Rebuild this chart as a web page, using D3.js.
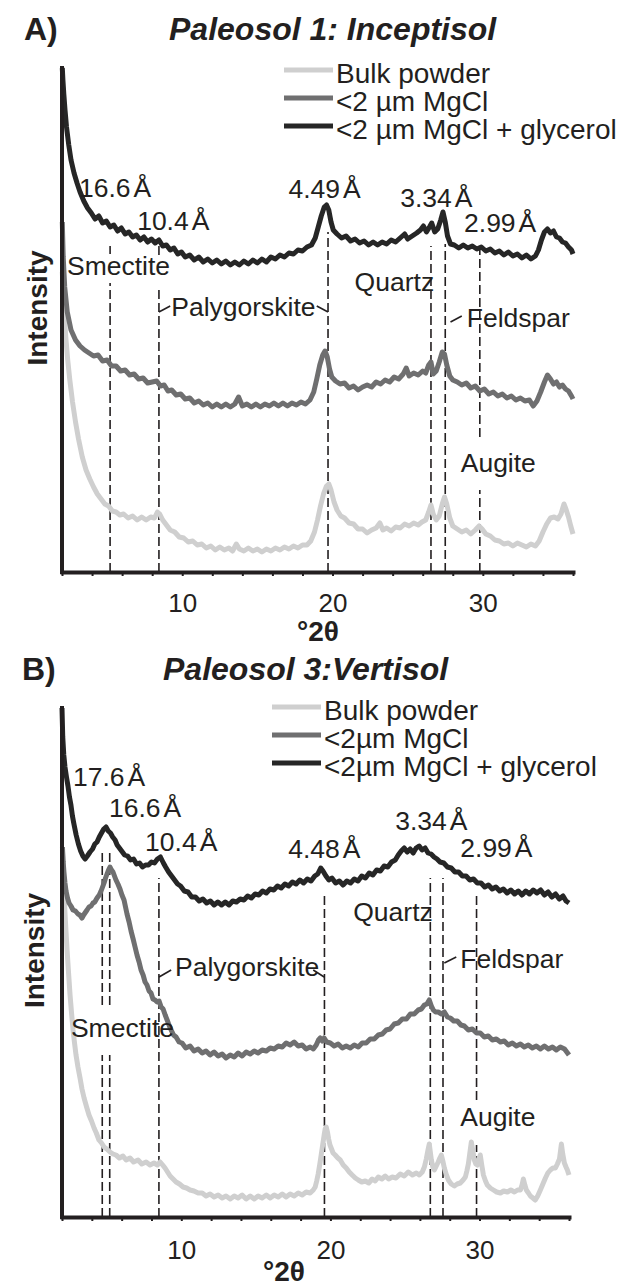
<!DOCTYPE html>
<html>
<head>
<meta charset="utf-8">
<script src="https://cdn.jsdelivr.net/npm/d3@7"></script>
<style>
  body { margin: 0; background: #fff; }
  svg text { font-family: "Liberation Sans", Arial, Helvetica, sans-serif; fill: #231f20; }
</style>
</head>
<body>
<svg id="chart" width="622" height="1286"></svg>
<script>
// x axis (degrees 2-theta)
const thetaDomain = [2, 36];
const thetaTicks = [2, 4, 6, 8, 10, 12, 14, 16, 18, 20, 22, 24, 26, 28, 30, 32, 34, 36];
const tickLabels = [10, 20, 30];

const seriesNames = ['bulk', 'mgcl', 'glyc'];
const legendA = ['Bulk powder', '<2 µm MgCl', '<2 µm MgCl + glycerol'];
const legendB = ['Bulk powder', '<2µm MgCl', '<2µm MgCl + glycerol'];

// Panel A: Paleosol 1 (intensity, arbitrary units)
const bulkA = [[2.02,300],[2.08,280],[2.15,258],[2.25,235],[2.38,212],[2.52,192],[2.7,170],[2.9,150],[3.1,133],[3.35,115],[3.6,102],[3.85,93],[4.1,85],[4.35,78],[4.6,73],[4.85,68],[5.1,66],[5.35,61],[5.6,60],[5.85,57],[6.1,58],[6.4,54],[6.7,56],[7.0,52],[7.3,55],[7.6,52],[7.9,55],[8.15,54],[8.35,60],[8.5,58],[8.7,52],[8.95,47],[9.2,42],[9.5,40],[9.8,35],[10.1,34],[10.4,30],[10.7,31],[11.0,27],[11.3,28],[11.6,24],[11.9,26],[12.2,22],[12.5,25],[12.8,22],[13.1,24],[13.35,21],[13.6,28],[13.8,23],[14.1,21],[14.4,24],[14.7,21],[15.0,23],[15.3,20],[15.6,23],[15.9,21],[16.2,24],[16.5,22],[16.8,25],[17.1,23],[17.4,26],[17.7,24],[18.0,27],[18.3,27],[18.55,31],[18.8,40],[19.0,52],[19.2,66],[19.4,78],[19.6,86],[19.75,88],[19.9,82],[20.1,70],[20.3,62],[20.55,56],[20.8,54],[21.1,49],[21.4,48],[21.7,43],[22.0,43],[22.3,39],[22.6,42],[22.9,44],[23.15,49],[23.35,42],[23.6,44],[23.9,41],[24.2,45],[24.5,44],[24.8,48],[25.1,46],[25.4,49],[25.7,47],[25.95,50],[26.2,52],[26.4,60],[26.55,67],[26.7,58],[26.9,52],[27.1,56],[27.3,68],[27.45,75],[27.6,68],[27.8,54],[28.0,46],[28.3,43],[28.6,40],[28.9,42],[29.2,38],[29.5,42],[29.75,46],[29.95,43],[30.2,38],[30.5,36],[30.8,32],[31.1,31],[31.4,28],[31.7,29],[32.0,26],[32.3,29],[32.6,27],[32.9,25],[33.2,28],[33.5,26],[33.75,31],[34.0,40],[34.25,48],[34.5,54],[34.75,55],[35.0,53],[35.2,58],[35.4,68],[35.55,62],[35.7,55],[35.85,46],[36.0,38]];
const mgclA = [[2.02,350],[2.08,315],[2.18,285],[2.35,260],[2.6,242],[2.9,232],[3.2,226],[3.5,222],[3.8,219],[4.1,216],[4.4,217],[4.7,211],[5.0,212],[5.3,206],[5.6,206],[5.9,201],[6.2,202],[6.5,197],[6.8,198],[7.1,193],[7.4,194],[7.7,189],[8.0,190],[8.3,191],[8.55,186],[8.8,187],[9.05,181],[9.3,182],[9.6,177],[9.9,178],[10.2,173],[10.5,174],[10.8,169],[11.1,171],[11.4,167],[11.7,169],[12.0,165],[12.3,168],[12.6,165],[12.9,168],[13.2,165],[13.5,168],[13.75,175],[14.0,166],[14.3,168],[14.6,165],[14.9,168],[15.2,165],[15.5,168],[15.8,166],[16.1,169],[16.4,166],[16.7,169],[17.0,166],[17.3,169],[17.6,167],[17.9,170],[18.2,168],[18.5,172],[18.75,180],[18.95,193],[19.15,207],[19.35,217],[19.5,221],[19.65,215],[19.8,203],[19.95,195],[20.2,191],[20.5,188],[20.8,189],[21.1,184],[21.4,186],[21.7,182],[22.0,185],[22.3,187],[22.6,185],[22.9,190],[23.2,188],[23.5,192],[23.8,190],[24.1,195],[24.4,193],[24.7,198],[24.9,204],[25.1,196],[25.4,199],[25.7,197],[26.0,201],[26.2,199],[26.4,207],[26.55,210],[26.7,198],[26.9,201],[27.1,210],[27.3,220],[27.45,218],[27.6,207],[27.8,196],[28.0,192],[28.3,190],[28.6,187],[28.9,189],[29.2,184],[29.5,186],[29.8,181],[30.1,183],[30.4,178],[30.7,180],[31.0,176],[31.3,178],[31.6,174],[31.9,176],[32.2,172],[32.5,174],[32.8,171],[33.1,172],[33.35,166],[33.6,171],[33.85,180],[34.1,190],[34.3,197],[34.5,193],[34.7,188],[34.9,190],[35.1,185],[35.3,187],[35.5,183],[35.7,181],[35.9,176],[36.0,173]];
const glycA = [[2.02,504],[2.06,492],[2.12,478],[2.2,462],[2.3,445],[2.45,427],[2.6,412],[2.8,399],[3.0,389],[3.2,380],[3.45,371],[3.7,364],[3.95,359],[4.2,353],[4.45,356],[4.7,349],[4.95,351],[5.2,345],[5.45,347],[5.7,341],[5.95,344],[6.2,338],[6.45,340],[6.7,335],[6.95,337],[7.2,332],[7.45,335],[7.7,330],[7.95,333],[8.2,329],[8.45,332],[8.7,326],[8.95,327],[9.2,322],[9.45,324],[9.7,318],[9.95,320],[10.2,315],[10.5,317],[10.8,312],[11.1,315],[11.4,310],[11.7,313],[12.0,309],[12.3,312],[12.6,308],[12.9,311],[13.2,307],[13.5,310],[13.8,307],[14.1,311],[14.4,308],[14.7,312],[15.0,309],[15.3,313],[15.6,310],[15.9,315],[16.2,313],[16.5,317],[16.8,315],[17.1,319],[17.4,318],[17.7,322],[18.0,321],[18.3,325],[18.6,327],[18.85,334],[19.05,345],[19.25,356],[19.45,365],[19.6,367],[19.75,362],[19.9,350],[20.05,342],[20.3,338],[20.6,334],[20.9,336],[21.2,331],[21.5,333],[21.8,329],[22.1,331],[22.4,327],[22.7,330],[23.0,327],[23.3,330],[23.6,328],[23.9,332],[24.2,330],[24.5,334],[24.8,338],[25.0,333],[25.3,336],[25.6,339],[25.85,342],[26.05,346],[26.25,340],[26.45,345],[26.6,349],[26.8,340],[27.0,343],[27.2,352],[27.35,360],[27.5,350],[27.65,336],[27.85,328],[28.1,327],[28.4,324],[28.7,327],[29.0,324],[29.3,326],[29.6,323],[29.9,325],[30.2,321],[30.5,323],[30.8,319],[31.1,321],[31.4,317],[31.7,320],[32.0,316],[32.3,318],[32.6,314],[32.9,317],[33.2,313],[33.5,316],[33.7,322],[33.9,332],[34.1,340],[34.3,343],[34.5,339],[34.7,341],[34.9,335],[35.1,334],[35.3,330],[35.5,329],[35.7,325],[35.9,322],[36.0,318]];

// Panel B: Paleosol 3
const bulkB = [[2.03,367],[2.07,350],[2.1,337],[2.15,320],[2.2,304],[2.27,285],[2.34,267],[2.44,244],[2.54,222],[2.64,204],[2.74,187],[2.84,174],[2.94,162],[3.07,150],[3.21,139],[3.34,128],[3.48,119],[3.65,110],[3.81,102],[3.98,96],[4.15,89],[4.3,84],[4.48,77],[4.65,74],[4.82,70],[5.0,68],[5.22,65],[5.42,63],[5.62,62],[5.85,59],[6.09,61],[6.3,57],[6.56,59],[6.8,55],[7.1,57],[7.35,53],[7.64,55],[7.9,52],[8.17,54],[8.4,52],[8.58,55],[8.75,52],[8.91,49],[9.08,45],[9.25,41],[9.45,38],[9.65,35],[9.88,33],[10.12,30],[10.35,29],[10.59,27],[10.85,26],[11.13,24],[11.4,24],[11.66,21],[11.93,23],[12.2,20],[12.47,22],[12.74,19],[13.0,21],[13.28,18],[13.55,21],[13.81,19],[14.08,22],[14.35,18],[14.62,21],[14.89,18],[15.15,21],[15.42,19],[15.7,22],[15.96,19],[16.23,22],[16.5,20],[16.77,23],[17.03,20],[17.3,23],[17.57,21],[17.84,24],[18.11,22],[18.37,25],[18.64,24],[18.85,27],[18.98,30],[19.08,36],[19.18,43],[19.28,52],[19.38,62],[19.48,72],[19.58,82],[19.65,88],[19.72,90],[19.8,85],[19.88,78],[19.97,72],[20.05,69],[20.18,64],[20.32,62],[20.5,59],[20.66,57],[20.86,52],[21.06,49],[21.26,45],[21.46,42],[21.67,39],[21.87,37],[22.1,35],[22.34,36],[22.57,34],[22.8,38],[23.0,36],[23.21,40],[23.45,38],[23.68,41],[23.9,38],[24.15,40],[24.4,39],[24.68,43],[24.95,41],[25.22,45],[25.5,42],[25.76,44],[25.96,42],[26.16,45],[26.3,50],[26.43,58],[26.53,66],[26.63,73],[26.7,65],[26.77,57],[26.87,50],[26.97,47],[27.1,51],[27.23,55],[27.34,59],[27.44,62],[27.54,56],[27.64,49],[27.78,42],[27.91,37],[28.1,33],[28.31,31],[28.5,33],[28.71,34],[28.9,37],[29.05,40],[29.15,46],[29.25,53],[29.35,64],[29.45,75],[29.55,66],[29.65,57],[29.75,53],[29.85,52],[29.95,57],[30.05,62],[30.15,52],[30.26,42],[30.4,36],[30.52,32],[30.72,29],[30.93,27],[31.15,25],[31.4,24],[31.62,26],[31.87,25],[32.1,27],[32.34,25],[32.55,27],[32.74,27],[32.85,32],[32.94,38],[33.04,32],[33.14,27],[33.28,24],[33.41,21],[33.58,19],[33.74,17],[33.9,21],[34.08,27],[34.25,33],[34.42,39],[34.58,44],[34.75,47],[34.92,49],[35.09,49],[35.22,53],[35.36,58],[35.43,66],[35.49,73],[35.58,63],[35.69,54],[35.8,50],[35.89,47],[36.0,42]];
const mgclB = [[2.03,370],[2.08,355],[2.13,345],[2.2,334],[2.27,326],[2.37,319],[2.47,314],[2.6,311],[2.74,307],[2.9,306],[3.07,303],[3.2,302],[3.34,299],[3.45,302],[3.54,304],[3.68,307],[3.81,310],[3.95,311],[4.08,314],[4.2,315],[4.35,319],[4.5,322],[4.62,326],[4.72,330],[4.82,334],[4.92,339],[5.02,343],[5.12,347],[5.22,350],[5.32,347],[5.42,345],[5.52,341],[5.62,337],[5.75,333],[5.89,328],[6.02,322],[6.16,317],[6.26,310],[6.36,303],[6.5,295],[6.63,286],[6.77,278],[6.9,270],[7.03,262],[7.17,255],[7.3,247],[7.44,242],[7.57,235],[7.7,232],[7.84,226],[7.97,224],[8.1,218],[8.24,217],[8.38,215],[8.51,216],[8.65,210],[8.78,208],[8.92,202],[9.05,197],[9.2,191],[9.32,187],[9.48,182],[9.65,180],[9.85,175],[10.05,174],[10.3,169],[10.59,171],[10.85,166],[11.13,168],[11.4,164],[11.66,166],[11.93,162],[12.2,165],[12.47,161],[12.74,163],[13.0,159],[13.28,162],[13.55,160],[13.81,164],[14.08,161],[14.35,165],[14.62,163],[14.89,166],[15.15,164],[15.42,167],[15.7,166],[15.96,169],[16.23,168],[16.5,171],[16.77,170],[17.03,174],[17.3,172],[17.57,175],[17.84,171],[18.11,172],[18.37,168],[18.64,170],[18.85,168],[19.05,172],[19.2,177],[19.32,179],[19.45,176],[19.58,179],[19.75,175],[19.99,174],[20.25,171],[20.52,173],[20.8,169],[21.06,171],[21.33,169],[21.6,172],[21.87,170],[22.13,174],[22.4,174],[22.67,178],[22.94,178],[23.21,182],[23.48,183],[23.74,187],[24.0,188],[24.28,193],[24.55,194],[24.82,198],[25.1,198],[25.36,203],[25.62,203],[25.89,207],[26.1,208],[26.3,212],[26.47,213],[26.63,217],[26.77,211],[26.9,207],[27.05,205],[27.23,205],[27.45,203],[27.64,205],[27.85,200],[28.04,199],[28.27,196],[28.51,196],[28.75,192],[28.98,191],[29.25,187],[29.52,188],[29.8,184],[30.05,184],[30.32,180],[30.59,181],[30.86,177],[31.13,178],[31.4,175],[31.66,176],[31.93,172],[32.2,174],[32.47,171],[32.74,173],[33.0,170],[33.27,172],[33.54,169],[33.81,171],[34.08,168],[34.35,171],[34.62,168],[34.89,170],[35.15,167],[35.42,170],[35.7,168],[35.85,165],[36.0,162]];
const glycB = [[2.0,509],[2.05,480],[2.12,462],[2.2,450],[2.3,440],[2.4,431],[2.5,420],[2.6,412],[2.7,401],[2.8,393],[2.95,382],[3.1,373],[3.25,366],[3.4,361],[3.55,358],[3.7,361],[3.88,365],[4.05,368],[4.2,373],[4.35,375],[4.5,380],[4.65,384],[4.8,388],[4.95,390],[5.1,386],[5.25,384],[5.4,380],[5.56,377],[5.7,372],[5.85,369],[6.0,366],[6.2,362],[6.4,361],[6.6,357],[6.8,358],[7.0,353],[7.2,354],[7.4,350],[7.6,352],[7.8,352],[8.0,355],[8.2,354],[8.4,358],[8.6,360],[8.8,354],[8.95,350],[9.15,345],[9.35,341],[9.55,337],[9.75,333],[9.95,331],[10.2,326],[10.45,325],[10.7,320],[10.95,320],[11.2,316],[11.45,318],[11.7,314],[11.95,316],[12.2,312],[12.45,315],[12.7,312],[12.95,315],[13.2,312],[13.45,316],[13.7,315],[13.95,318],[14.2,317],[14.45,321],[14.7,319],[14.95,323],[15.2,322],[15.45,326],[15.7,324],[15.95,328],[16.2,327],[16.45,331],[16.7,329],[16.95,333],[17.2,331],[17.45,335],[17.7,333],[17.95,337],[18.2,334],[18.45,338],[18.7,336],[18.95,341],[19.15,343],[19.35,349],[19.5,346],[19.7,341],[19.9,337],[20.1,339],[20.35,334],[20.6,336],[20.85,332],[21.1,336],[21.35,334],[21.6,338],[21.85,336],[22.1,341],[22.35,339],[22.6,344],[22.85,342],[23.1,347],[23.35,346],[23.6,351],[23.85,350],[24.1,355],[24.35,357],[24.55,362],[24.75,366],[24.95,369],[25.15,365],[25.35,368],[25.55,364],[25.75,369],[25.95,371],[26.15,367],[26.35,369],[26.55,364],[26.75,363],[26.95,360],[27.15,358],[27.35,355],[27.6,354],[27.85,350],[28.1,349],[28.35,345],[28.6,345],[28.85,341],[29.1,341],[29.35,337],[29.6,338],[29.85,334],[30.1,334],[30.35,330],[30.6,332],[30.85,328],[31.1,330],[31.35,326],[31.6,328],[31.85,324],[32.1,327],[32.35,323],[32.6,326],[32.85,322],[33.1,326],[33.35,323],[33.6,327],[33.85,324],[34.1,327],[34.35,322],[34.6,325],[34.85,320],[35.1,323],[35.35,318],[35.6,321],[35.8,316],[36.0,314]];

// reflection positions (deg 2-theta) and the intensity spans of their dashed marks
const peaksA = [5.2, 8.45, 19.7, 26.55, 27.5, 29.8];
const peakSpansA = [[[318, 326], [0, 289]], [[317, 327], [0, 282]], [[0, 340]], [[0, 326]], [[0, 328]], [[135, 322], [0, 82]]];
const peaksB = [4.7, 5.2, 8.5, 19.6, 26.7, 27.55, 29.8];
const peakSpansB = [[[212, 367], [0, 162]], [[212, 367], [0, 162]], [[0, 339]], [[0, 322]], [[0, 339]], [[0, 339]], [[117, 322], [0, 72]]];

// d-spacing labels [text, deg, intensity]
const dLabelsA = [['16.6', 3.13, 375], ['10.4', 7.0, 342], ['4.49', 17.07, 374], ['3.34', 24.5, 365], ['2.99', 28.75, 340]];
const dLabelsB = [['17.6', 2.74, 431], ['16.6', 5.15, 400], ['10.4', 7.57, 366], ['4.48', 17.17, 359], ['3.34', 24.35, 387], ['2.99', 28.71, 360]];
// mineral labels [text, deg, intensity]
const mineralsA = [['Smectite', 2.33, 297], ['Palygorskite', 9.27, 256], ['Quartz', 21.47, 281], ['Feldspar', 28.93, 245], ['Augite', 28.53, 100]];
const mineralsB = [['Smectite', 2.6, 180], ['Palygorskite', 9.58, 241], ['Quartz', 21.53, 296], ['Feldspar', 28.71, 249], ['Augite', 28.71, 91]];
// little leader strokes next to mineral names
const leadersA = [[[8.45, 260], [9.2, 266]], [[18.95, 266], [19.7, 260]], [[27.85, 250], [28.6, 256]]];
const leadersB = [[[8.51, 240], [9.32, 247]], [[18.85, 247], [19.58, 240]], [[27.64, 254], [28.44, 260]]];

const colors = { bulk: '#cfcfcf', mgcl: '#6f6f70', glyc: '#262626' };
const ink = '#231f20';

const svg = d3.select('#chart');
svg.append('rect').attr('width', 622).attr('height', 1286).attr('fill', '#fff');

function drawPanel(p) {
    const x = d3.scaleLinear().domain(thetaDomain).range([p.left, p.right]);
    const y = d3.scaleLinear().domain([0, p.yMax]).range([p.bottom, p.top]);
    const g = svg.append('g');

    // heading
    g.append('text').attr('x', p.tagX).attr('y', p.titleY)
        .attr('font-size', 32).attr('font-weight', 'bold').text(p.tag);
    g.append('text').attr('x', p.titleX).attr('y', p.titleY)
        .attr('font-size', 32).attr('font-weight', 'bold').attr('font-style', 'italic').text(p.title);

    // dashed reflection marks
    p.peaks.forEach((pos, i) => {
        p.spans[i].forEach(s => {
            g.append('line')
                .attr('x1', x(pos)).attr('x2', x(pos))
                .attr('y1', y(s[0])).attr('y2', y(s[1]))
                .attr('stroke', ink).attr('stroke-width', 1.6)
                .attr('stroke-dasharray', '9,4');
        });
    });
    p.leaders.forEach(l => {
        g.append('line')
            .attr('x1', x(l[0][0])).attr('y1', y(l[0][1]))
            .attr('x2', x(l[1][0])).attr('y2', y(l[1][1]))
            .attr('stroke', ink).attr('stroke-width', 1.6);
    });

    // diffractograms
    const line = d3.line().x(d => x(d[0])).y(d => y(d[1]));
    seriesNames.forEach(k => {
        g.append('path')
            .datum(p.series[k])
            .attr('d', line)
            .attr('fill', 'none')
            .attr('stroke', colors[k])
            .attr('stroke-width', 5)
            .attr('stroke-linejoin', 'round');
    });

    // axes
    const xAxis = g.append('g')
        .attr('transform', `translate(0,${p.bottom})`)
        .call(d3.axisBottom(x).tickValues(thetaTicks)
            .tickFormat(d => tickLabels.includes(d) ? d : '')
            .tickSize(4).tickSizeOuter(0).tickPadding(p.tickPad));
    xAxis.select('.domain').attr('stroke', ink).attr('stroke-width', 4).attr('stroke-linecap', 'square');
    xAxis.selectAll('.tick line').attr('stroke', ink).attr('stroke-width', 2);
    xAxis.selectAll('.tick text').attr('font-size', 26).attr('font-family', null).attr('fill', ink);

    g.append('line')
        .attr('x1', x(thetaDomain[0])).attr('x2', x(thetaDomain[0]))
        .attr('y1', y(0)).attr('y2', y(p.yMax))
        .attr('stroke', ink).attr('stroke-width', 4).attr('stroke-linecap', 'square');

    g.append('text')
        .attr('transform', `translate(${p.yTitleX},${(p.top + p.bottom) / 2 - 12}) rotate(-90)`)
        .attr('text-anchor', 'middle').attr('dominant-baseline', 'central')
        .attr('font-size', 28).attr('font-weight', 'bold').text('Intensity');
    g.append('text')
        .attr('x', p.xTitleX).attr('y', p.xTitleY)
        .attr('text-anchor', 'middle').attr('font-size', 28).attr('font-weight', 'bold')
        .text('°2θ');

    // labels
    p.dLabels.forEach(d => {
        const t = g.append('text').attr('x', x(d[1])).attr('y', y(d[2])).attr('font-size', 26.5).text(d[0]);
        t.append('tspan').attr('dx', 3).text('Å');
    });
    p.minerals.forEach(d => {
        g.append('text').attr('x', x(d[1])).attr('y', y(d[2])).attr('font-size', 26.5).text(d[0]);
    });

    // legend
    p.legend.forEach((lab, i) => {
        const by = p.legendY + i * 28;
        g.append('line')
            .attr('x1', p.legendX).attr('x2', p.legendX + 49)
            .attr('y1', by - 13).attr('y2', by - 13)
            .attr('stroke', colors[seriesNames[i]]).attr('stroke-width', 5);
        g.append('text').attr('x', p.legendX + 52).attr('y', by).attr('font-size', 28).text(lab);
    });
}

drawPanel({
    left: 62, right: 573, top: 68, bottom: 572, yMax: 504, tickPad: 18,
    tag: 'A)', tagX: 24, title: 'Paleosol 1: Inceptisol', titleX: 169, titleY: 40,
    yTitleX: 37, xTitleX: 318, xTitleY: 641,
    series: { bulk: bulkA, mgcl: mgclA, glyc: glycA },
    peaks: peaksA, spans: peakSpansA, leaders: leadersA,
    dLabels: dLabelsA, minerals: mineralsA,
    legend: legendA, legendX: 284, legendY: 83
});

drawPanel({
    left: 62, right: 569, top: 708, bottom: 1217, yMax: 509, tickPad: 20,
    tag: 'B)', tagX: 22, title: 'Paleosol 3:Vertisol', titleX: 163, titleY: 680,
    yTitleX: 34, xTitleX: 284, xTitleY: 1281,
    series: { bulk: bulkB, mgcl: mgclB, glyc: glycB },
    peaks: peaksB, spans: peakSpansB, leaders: leadersB,
    dLabels: dLabelsB, minerals: mineralsB,
    legend: legendB, legendX: 272, legendY: 720
});
</script>
</body>
</html>
